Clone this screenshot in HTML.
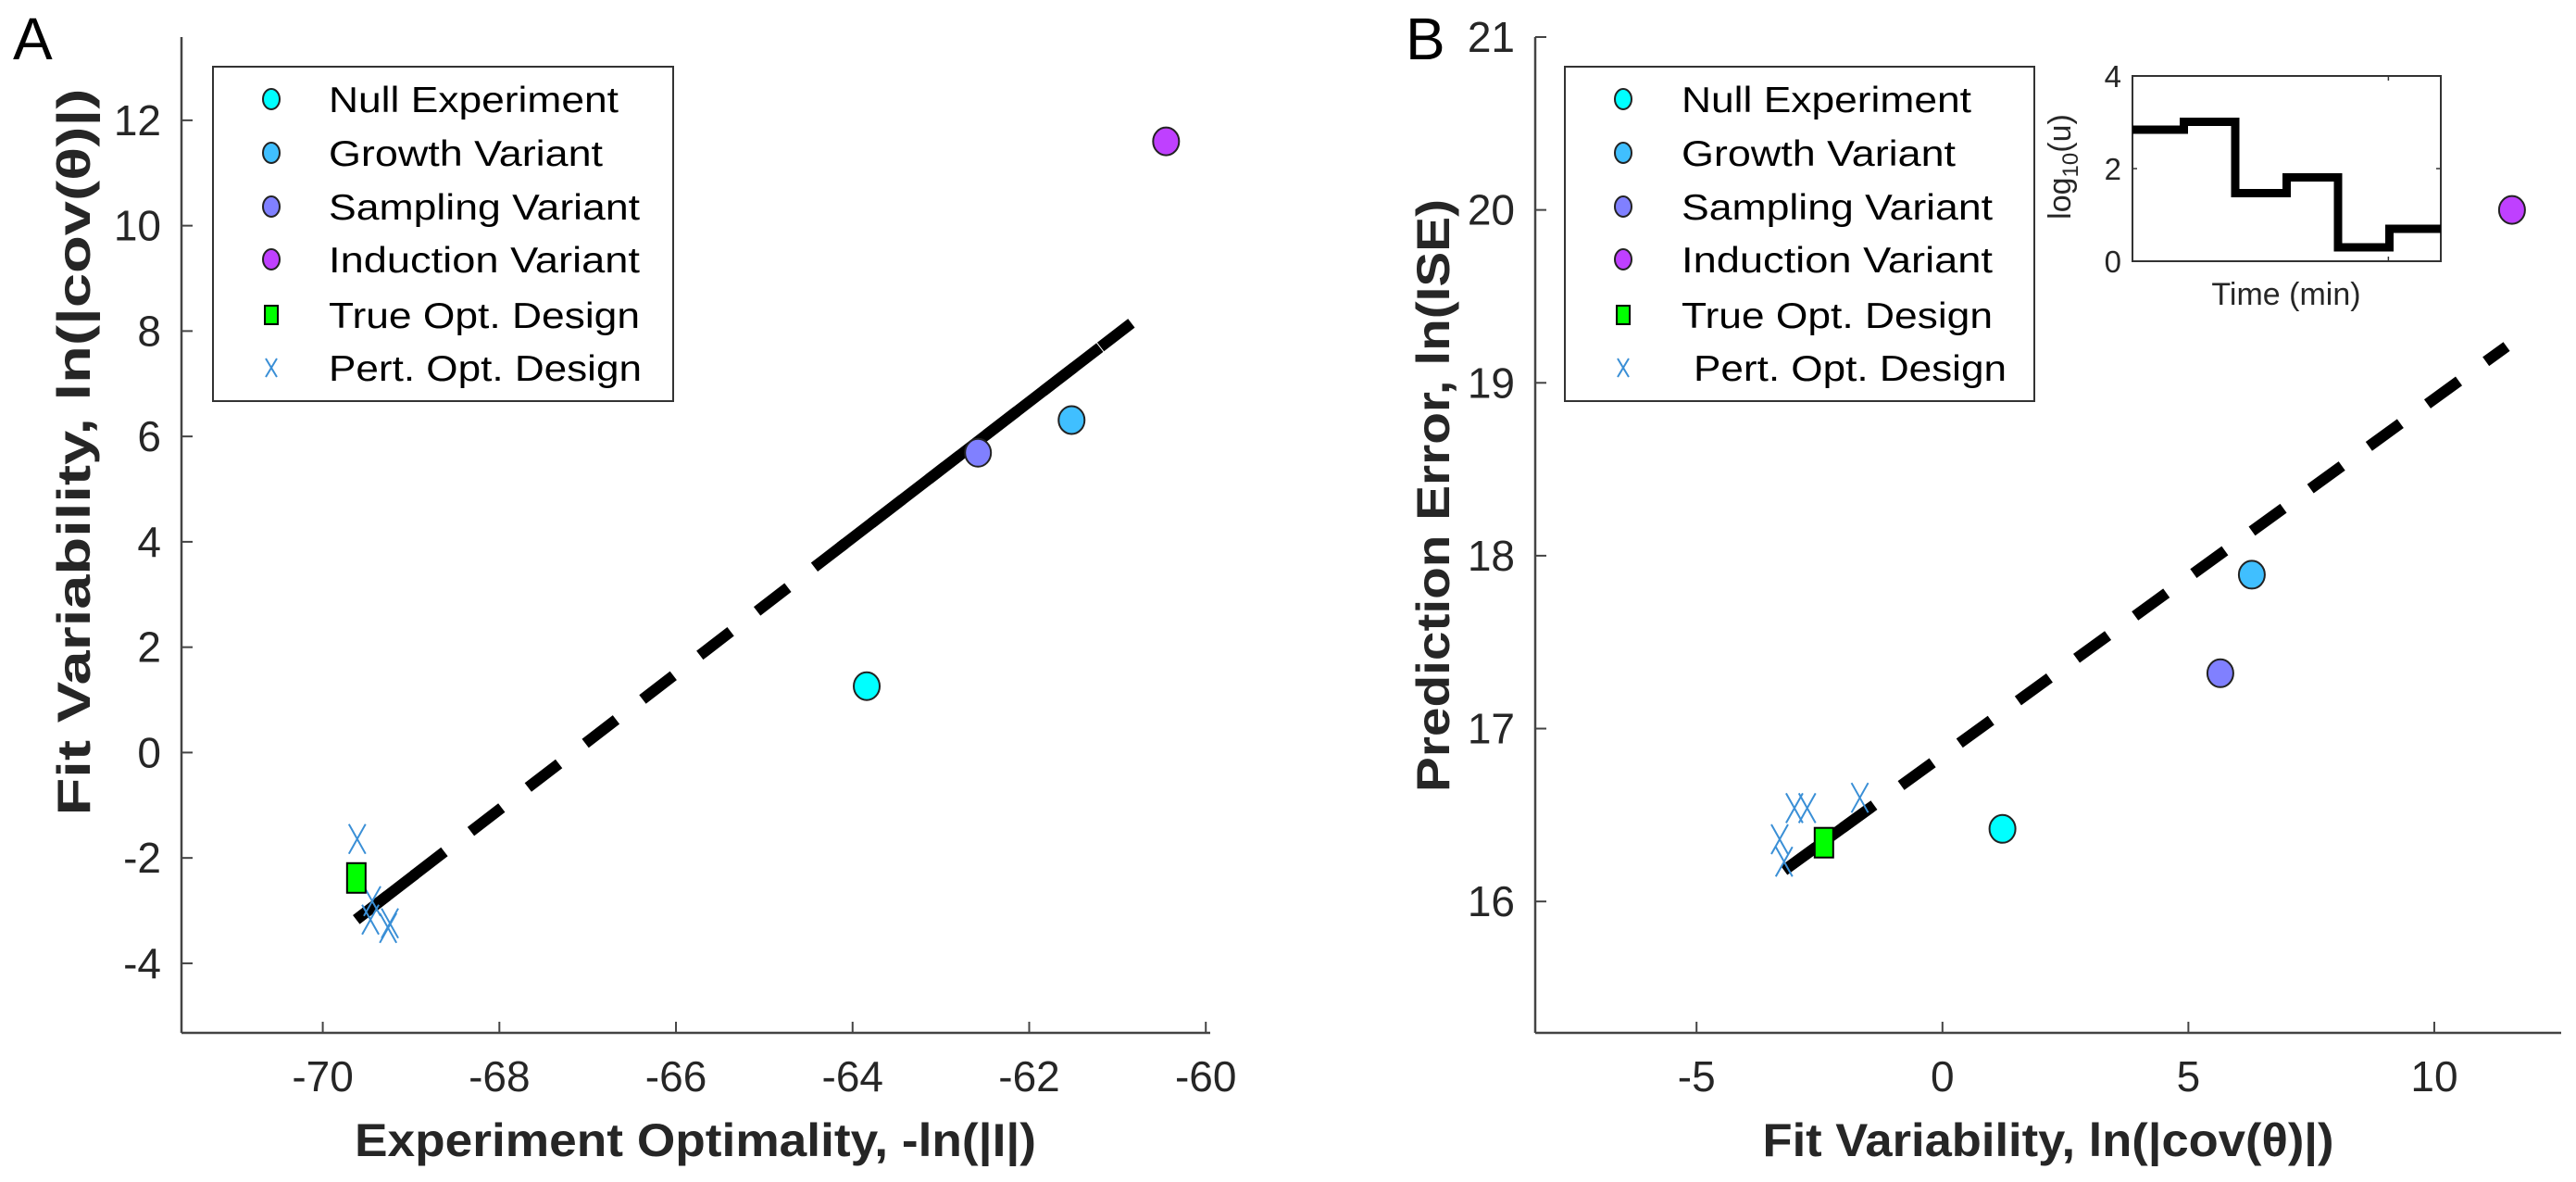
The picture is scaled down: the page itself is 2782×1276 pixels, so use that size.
<!DOCTYPE html>
<html><head><meta charset="utf-8"><style>
html,body{margin:0;padding:0;background:#fff;}
svg{display:block;font-family:"Liberation Sans",Arial,sans-serif;}
</style></head><body>
<svg id="fig" width="2782" height="1276" viewBox="0 0 2782 1276" xmlns="http://www.w3.org/2000/svg">
<g id="gA"></g>
<g id="gB"></g>
</svg>
<script>
// ---- Panel A data ----
const aVariantX = [-63.84, -61.52, -62.58, -60.45];
const aVariantY = [1.26, 6.31, 5.69, 11.6];
const aTrueX = [-69.62];
const aTrueY = [-2.38];
const aPertX = [-69.61, -69.44, -69.46, -69.24, -69.26];
const aPertY = [-1.64, -2.82, -3.17, -3.24, -3.33];
const aFitX = [-69.62, -60.57];
const aFitY = [-3.17, 8.5];
const aSolidX = [[-69.62, -68.95], [-64.14, -61.2]];
const aXTicks = [-70, -68, -66, -64, -62, -60];
const aYTicks = [-4, -2, 0, 2, 4, 6, 8, 10, 12];
// ---- Panel B data ----
const bVariantX = [1.22, 6.29, 5.65, 11.58];
const bVariantY = [16.42, 17.89, 17.32, 20.0];
const bTrueX = [-2.41];
const bTrueY = [16.34];
const bPertX = [-3.01, -2.75, -3.31, -3.22, -1.68];
const bPertY = [16.54, 16.54, 16.36, 16.23, 16.6];
const bFitX = [-3.22, 11.47];
const bFitY = [16.18, 19.21];
const bSolidX = [[-3.22, -1.45]];
const bXTicks = [-5, 0, 5, 10];
const bYTicks = [16, 17, 18, 19, 20, 21];
// ---- Inset data ----
const insetLevels = [2.84, 3.01, 1.47, 1.81, 0.30, 0.70];
const insetYTicks = [0, 2, 4];

const variantColors = ['#00ffff','#40bfff','#8080ff','#bf40ff'];
const variantNames = ['Null Experiment','Growth Variant','Sampling Variant','Induction Variant'];
const NS='http://www.w3.org/2000/svg';
function mk(tag, attrs, parent, text){
  const e=document.createElementNS(NS,tag);
  for(const k in attrs) e.setAttribute(k,attrs[k]);
  if(text!==undefined) e.textContent=text;
  parent.appendChild(e); return e;
}
function lin(d0,d1,r0,r1){return v=>r0+(v-d0)/(d1-d0)*(r1-r0);}

function panel(g, cfg){
  const sx=lin(cfg.xmin,cfg.xmax,cfg.L,cfg.R), sy=lin(cfg.ymin,cfg.ymax,cfg.B,cfg.T);
  let ax=mk('line',{x1:cfg.L,y1:cfg.B,x2:cfg.R,y2:cfg.B,stroke:'#444','stroke-width':2.5},g);
  
  
  let ay=mk('line',{x1:cfg.L,y1:cfg.B,x2:cfg.L,y2:cfg.T,stroke:'#444','stroke-width':2.5},g);
  
  
  cfg.xt.forEach(v=>{
    const x=sx(v);
    mk('line',{x1:x,y1:cfg.B,x2:x,y2:cfg.B-12,stroke:'#444','stroke-width':2},g);
    const t=mk('text',{x:x,y:1178,'font-size':46,'text-anchor':'middle',fill:'#262626'},g,String(v));
    
    
  });
  cfg.yt.forEach(v=>{
    const y=sy(v);
    mk('line',{x1:cfg.L,y1:y,x2:cfg.L+12,y2:y,stroke:'#444','stroke-width':2},g);
    const t=mk('text',{x:cfg.L-22,y:y+16,'font-size':46,'text-anchor':'end',fill:'#262626'},g,String(v));
    
    
  });
  let fl=mk('line',{x1:sx(cfg.fx[0]),y1:sy(cfg.fy[0]),x2:sx(cfg.fx[1]),y2:sy(cfg.fy[1]),stroke:'#000','stroke-width':12,'stroke-dasharray':'42 36'},g);
  
  
  const slope=(cfg.fy[1]-cfg.fy[0])/(cfg.fx[1]-cfg.fx[0]);
  cfg.solid.forEach(s=>{
    const y0=cfg.fy[0]+slope*(s[0]-cfg.fx[0]), y1=cfg.fy[0]+slope*(s[1]-cfg.fx[0]);
    const l=mk('line',{x1:sx(s[0]),y1:sy(y0),x2:sx(s[1]),y2:sy(y1),stroke:'#000','stroke-width':12},g);
    
    
  });
  cfg.px.forEach((v,i)=>{
    const x=sx(v), y=sy(cfg.py[i]), h=9, w=16;
    const p=mk('path',{d:`M${x-h},${y-w}L${x+h},${y+w}M${x-h},${y+w}L${x+h},${y-w}`,stroke:'#3a8fd6','stroke-width':2,fill:'none'},g);
    
    
  });
  cfg.tx.forEach((v,i)=>{
    const r=mk('rect',{x:sx(v)-10,y:sy(cfg.ty[i])-16,width:20,height:32,fill:'#00ff00',stroke:'#000','stroke-width':2},g);
    
    
  });
  cfg.vx.forEach((v,i)=>{
    const c=mk('ellipse',{cx:sx(v),cy:sy(cfg.vy[i]),rx:14,ry:15,fill:variantColors[i],stroke:'#222','stroke-width':2},g);
    
    
  });
  const lg=mk('g',{},g);
  
  
  mk('rect',{x:cfg.lx,y:72,width:cfg.lw,height:361,fill:'#fff',stroke:'#333','stroke-width':2},lg);
  const rows=[107,165,223,280,340,397];
  const names=variantNames.concat(['True Opt. Design',cfg.pertLabel]);
  rows.forEach((ry,i)=>{
    const mx=cfg.lx+cfg.mOff;
    let m;
    if(i<4) m=mk('ellipse',{cx:mx,cy:ry,rx:9,ry:11,fill:variantColors[i],stroke:'#222','stroke-width':2},lg);
    else if(i==4) m=mk('rect',{x:mx-7,y:ry-10,width:14,height:20,fill:'#00ff00',stroke:'#000','stroke-width':2},lg);
    else m=mk('path',{d:`M${mx-6},${ry-10}L${mx+6},${ry+10}M${mx-6},${ry+10}L${mx+6},${ry-10}`,stroke:'#3a8fd6','stroke-width':2},lg);
    
    
    const t=mk('text',{x:cfg.lx+cfg.tOff+(i==5?cfg.pertExtra:0),y:ry+14,'font-size':39,fill:'#000',textLength:cfg.tl[i],lengthAdjust:'spacingAndGlyphs'},lg,names[i]);
    
    
  });
  const xt=mk('text',{x:cfg.xtc,y:1248,'font-size':50,'font-weight':'bold','text-anchor':'middle',fill:'#262626',textLength:cfg.xtl,lengthAdjust:'spacingAndGlyphs'},g,cfg.xTitle);
  
  
  const yt=mk('text',{x:0,y:0,'font-size':50,'font-weight':'bold','text-anchor':'middle',fill:'#262626',textLength:cfg.ytl,lengthAdjust:'spacingAndGlyphs',transform:`translate(${cfg.ytx},${cfg.yty}) rotate(-90)`},g,cfg.yTitle);
  
  
  const pl=mk('text',{x:cfg.plx,y:64,'font-size':64,fill:'#000'},g,cfg.pLabel);
  
  
}

panel(document.getElementById('gA'),{
  L:196,R:1307,T:40,B:1115,xmin:-71.6,xmax:-59.95,ymin:-5.32,ymax:13.58,
  xt:aXTicks,yt:aYTicks,fx:aFitX,fy:aFitY,solid:aSolidX,px:aPertX,py:aPertY,tx:aTrueX,ty:aTrueY,vx:aVariantX,vy:aVariantY,
  lx:230,lw:497,mOff:63,tOff:125,pertExtra:0,pertLabel:'Pert. Opt. Design',tl:[313,296,336,336,336,338],
  xTitle:'Experiment Optimality, -ln(|I|)',xtc:751,xtl:736,
  yTitle:'Fit Variability, ln(|cov(\u03B8)|)',ytx:97,yty:488,ytl:785,pLabel:'A',plx:14
});
panel(document.getElementById('gB'),{
  L:1658,R:2766,T:40,B:1115,xmin:-8.28,xmax:12.58,ymin:15.24,ymax:21.0,
  xt:bXTicks,yt:bYTicks,fx:bFitX,fy:bFitY,solid:bSolidX,px:bPertX,py:bPertY,tx:bTrueX,ty:bTrueY,vx:bVariantX,vy:bVariantY,
  lx:1690,lw:507,mOff:63,tOff:126,pertExtra:13,pertLabel:'Pert. Opt. Design',tl:[313,296,336,336,336,338],
  xTitle:'Fit Variability, ln(|cov(\u03B8)|)',xtc:2212,xtl:617,
  yTitle:'Prediction Error, ln(ISE)',ytx:1565,yty:535,ytl:640,pLabel:'B',plx:1518
});

(function(){
  const g=mk('g',{},document.getElementById('gB'));
  
  
  const L=2303,R=2636,T=82,B=282;
  const sx=lin(0,insetLevels.length,L,R), sy=lin(0,4,B,T);
  mk('rect',{x:L,y:T,width:R-L,height:B-T,fill:'#fff',stroke:'#333','stroke-width':2},g);
  insetYTicks.forEach(v=>{
    const y=sy(v);
    mk('line',{x1:L,y1:y,x2:L+5,y2:y,stroke:'#333','stroke-width':1.5},g);
    mk('line',{x1:R,y1:y,x2:R-5,y2:y,stroke:'#333','stroke-width':1.5},g);
    const t=mk('text',{x:2291,y:y+12,'font-size':33,'text-anchor':'end',fill:'#262626'},g,String(v));
    
    
  });
  const xtk=L+(R-L)*0.83;
  mk('line',{x1:xtk,y1:B,x2:xtk,y2:B-5,stroke:'#333','stroke-width':1.5},g);
  mk('line',{x1:xtk,y1:T,x2:xtk,y2:T+5,stroke:'#333','stroke-width':1.5},g);
  let d='';
  insetLevels.forEach((v,i)=>{
    d+=(i==0?'M':'L')+sx(i)+','+sy(v)+'L'+sx(i+1)+','+sy(v);
  });
  const p=mk('path',{d:d,stroke:'#000','stroke-width':9,fill:'none'},g);
  
  
  const xt=mk('text',{x:2469,y:329,'font-size':34,'text-anchor':'middle',fill:'#262626'},g,'Time (min)');
  
  
  const yt=mk('text',{x:0,y:0,'font-size':34,'text-anchor':'middle',fill:'#262626',transform:'translate(2236,180) rotate(-90)'},g);
  
  
  yt.appendChild(document.createTextNode('log'));
  mk('tspan',{'font-size':24,dy:8},yt,'10');
  mk('tspan',{dy:-8},yt,'(u)');
})();
</script>
</body></html>
